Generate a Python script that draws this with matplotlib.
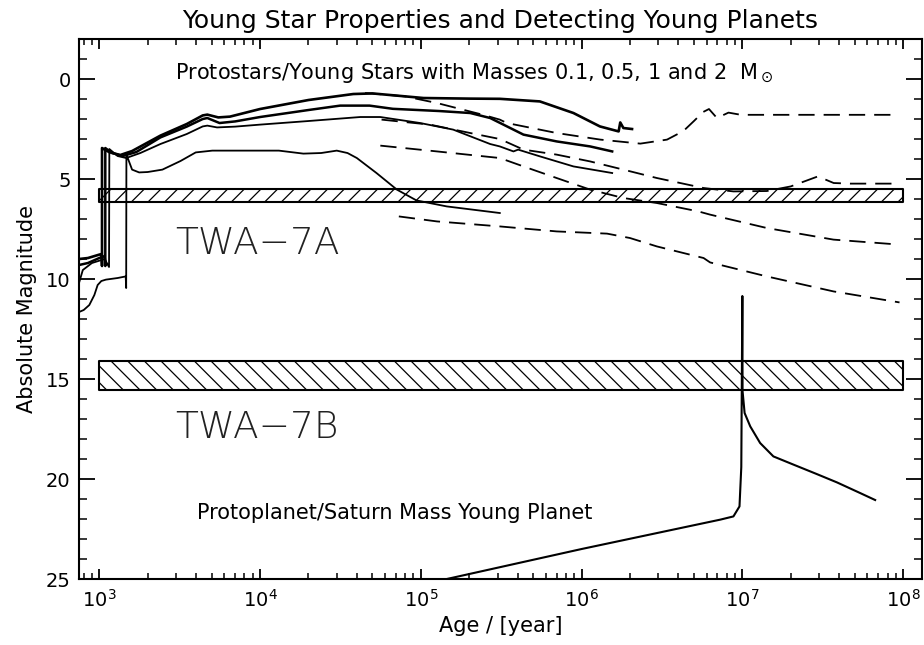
import matplotlib
matplotlib.use("Agg")
import matplotlib.pyplot as plt
from matplotlib.ticker import MultipleLocator, LogLocator

plt.rcParams["font.family"] = ["DejaVu Sans"]
plt.rcParams["mathtext.fontset"] = "dejavusans"
plt.rcParams["hatch.linewidth"] = 0.9

# evolutionary tracks of young stars (2, 1, 0.5, 0.1 Msun), solid
age_a = [748, 850, 1000, 1035, 1040, 1040, 1150, 1350, 1600, 2400, 3500, 4400, 4700,
         5500, 6500, 1.0e4, 2.0e4, 3.8e4, 5.0e4, 1.04e5, 2.0e5, 3.1e5, 5.5e5, 8.9e5,
         1.3e6, 1.7e6, 1.74e6, 1.82e6, 2.06e6]
mag_a = [9.0, 8.95, 8.78, 8.75, 9.35, 3.45, 3.65, 3.8, 3.6, 2.83, 2.25, 1.82, 1.78,
         1.92, 1.88, 1.5, 1.05, 0.75, 0.72, 0.95, 0.98, 0.99, 1.12, 1.7,
         2.37, 2.62, 2.17, 2.45, 2.5]

age_b = [748, 850, 1000, 1080, 1090, 1090, 1200, 1400, 1700, 2400, 3500, 4400, 4700,
         5600, 7000, 1.0e4, 2.0e4, 3.15e4, 4.8e4, 6.7e4, 1.3e5, 2.03e5, 2.7e5, 4.35e5,
         7.0e5, 1.13e6, 1.55e6]
mag_b = [9.3, 9.2, 8.95, 8.85, 9.35, 3.45, 3.7, 3.85, 3.65, 2.92, 2.38, 2.0, 1.95,
         2.2, 2.12, 1.9, 1.55, 1.33, 1.33, 1.49, 1.6, 1.7, 1.95, 2.78,
         3.12, 3.37, 3.62]

age_c = [748, 790, 900, 1080, 1150, 1155, 1300, 1470, 1800, 2400, 3500, 4400, 4700,
         5400, 7000, 1.0e4, 2.0e4, 4.2e4, 5.6e4, 9.9e4, 1.59e5, 2.7e5, 3.1e5, 3.77e5,
         4.03e5, 5.52e5, 8.9e5, 1.55e6]
mag_c = [10.2, 9.55, 9.2, 9.0, 9.4, 3.5, 3.85, 3.95, 3.7, 3.25, 2.75, 2.37, 2.33,
         2.42, 2.38, 2.28, 2.1, 1.9, 1.9, 2.2, 2.53, 3.25, 3.37, 3.62,
         3.53, 3.87, 4.37, 4.7]

age_d = [748, 800, 867, 932, 977, 1030, 1100, 1300, 1460, 1470, 1475, 1490, 1600, 1770,
         2000, 2470, 3200, 3980, 5050, 1.31e4, 1.86e4, 2.4e4, 3.0e4, 3.5e4, 4.0e4,
         5.3e4, 7.1e4, 9.4e4, 1.45e5, 3.1e5]
mag_d = [11.65, 11.55, 11.3, 10.8, 10.3, 10.1, 10.03, 9.95, 9.87, 10.45, 3.7, 3.87, 4.53,
         4.67, 4.65, 4.53, 4.1, 3.67, 3.58, 3.58, 3.73, 3.7, 3.58, 3.7, 3.95,
         4.7, 5.53, 6.07, 6.37, 6.7]

# comparison tracks, dashed
age_e = [4.5e4, 6.0e4, 8.0e4, 1.26e5, 2.44e5, 3.1e5, 3.43e5, 7.0e5, 1.31e6, 2.32e6,
         3.4e6, 4.3e6, 5.0e6, 5.7e6, 6.2e6, 6.95e6, 8.2e6, 9.8e6, 9.2e7]
mag_e = [0.7, 0.78, 0.87, 1.2, 1.79, 2.03, 2.2, 2.7, 3.03, 3.23,
         3.03, 2.6, 2.1, 1.65, 1.5, 1.95, 1.68, 1.79, 1.79]

age_f = [5.7e4, 1.14e5, 2.03e5, 3.1e5, 4.35e5, 7.0e5, 1.13e6, 1.82e6, 2.94e6, 5.74e6,
         8.8e6, 1.42e7, 2.0e7, 2.95e7, 3.7e7, 4.7e7, 8.7e7]
mag_f = [2.03, 2.28, 2.7, 3.0, 3.53, 3.78, 4.12, 4.53, 4.95, 5.45,
         5.62, 5.6, 5.37, 4.87, 5.2, 5.23, 5.23]

age_g = [5.6e4, 1.26e5, 3.1e5, 4.35e5, 7.0e5, 1.13e6, 1.82e6, 2.94e6, 5.33e6, 6.3e6,
         1.42e7, 3.69e7, 9.5e7]
mag_g = [3.33, 3.62, 3.95, 4.37, 4.95, 5.53, 5.95, 6.2, 6.62, 6.78,
         7.45, 8.03, 8.28]

age_h = [7.3e4, 1.26e5, 3.1e5, 7.0e5, 1.44e6, 2.0e6, 2.94e6, 5.74e6, 6.3e6, 1.42e7,
         3.69e7, 9.5e7]
mag_h = [6.87, 7.12, 7.37, 7.62, 7.73, 7.95, 8.37, 8.95, 9.17, 9.87,
         10.62, 11.17]

# protoplanet / Saturn mass planet
age_p = [1.0e5, 1.45e5, 1.0e6, 7.3e6, 8.8e6, 9.6e6, 9.85e6, 1.0e7, 1.003e7, 1.033e7,
         1.12e7, 1.29e7, 1.56e7, 2.08e7, 2.9e7, 3.88e7, 5.4e7, 6.7e7]
mag_p = [25.3, 25.0, 23.5, 22.03, 21.87, 21.37, 19.4, 10.85, 15.6, 16.7,
         17.37, 18.2, 18.87, 19.28, 19.75, 20.17, 20.7, 21.05]

# observed magnitude ranges of TWA-7A and TWA-7B
band_age = [1e3, 1e8]
band_a = [5.5, 6.17]
band_b = [14.08, 15.57]

fig = plt.figure(figsize=(9.24, 6.45), dpi=100)
ax = fig.add_axes([0.0855, 0.1023, 0.9123, 0.8372])

ax.fill_between(band_age, band_a[0], band_a[1], facecolor="none", edgecolor="k",
                hatch="//", lw=1.5)
ax.fill_between(band_age, band_b[0], band_b[1], facecolor="none", edgecolor="k",
                hatch="\\\\", lw=1.5)

for a, m, w in [(age_a, mag_a, 1.9), (age_b, mag_b, 1.8), (age_c, mag_c, 1.3),
                (age_d, mag_d, 1.3)]:
    ax.plot(a, m, color="k", lw=w, solid_joinstyle="round")
for a, m in [(age_e, mag_e), (age_f, mag_f), (age_g, mag_g), (age_h, mag_h)]:
    ax.plot(a, m, color="k", lw=1.3, dashes=(9, 5))
ax.plot(age_p, mag_p, color="k", lw=1.5)

ax.text(2970, -0.3, r"Protostars/Young Stars with Masses 0.1, 0.5, 1 and 2  M$_\odot$",
        fontsize=15, va="center", ha="left")
ax.text(2970, 8.2, "TWA\u22127A", fontsize=27, va="center", ha="left",
        fontweight="light", color="#222222")
ax.text(2970, 17.4, "TWA\u22127B", fontsize=27, va="center", ha="left",
        fontweight="light", color="#222222")
ax.text(4060, 21.7, "Protoplanet/Saturn Mass Young Planet", fontsize=15,
        va="center", ha="left")

ax.set_xscale("log")
ax.set_xlim(748, 1.31e8)
ax.set_ylim(25, -2)
ax.yaxis.set_major_locator(MultipleLocator(5))
ax.yaxis.set_minor_locator(MultipleLocator(1))
ax.xaxis.set_major_locator(LogLocator(base=10, numticks=20))
ax.xaxis.set_minor_locator(LogLocator(base=10, subs=range(2, 10), numticks=20))

ax.tick_params(which="both", direction="in", top=True, right=True, labelsize=14)
ax.tick_params(axis="y", which="major", length=11.5, width=1.3, pad=6)
ax.tick_params(axis="y", which="minor", length=5.8, width=1.1)
ax.tick_params(axis="x", which="major", length=7.2, width=1.3, pad=7)
ax.tick_params(axis="x", which="minor", length=4.3, width=1.1)
for s in ax.spines.values():
    s.set_linewidth(1.5)

ax.set_xlabel("Age / [year]", fontsize=15, labelpad=4)
ax.set_ylabel("Absolute Magnitude", fontsize=15, labelpad=6)
ax.set_title("Young Star Properties and Detecting Young Planets", fontsize=18, pad=8)

fig.savefig("out.png", dpi=100)
